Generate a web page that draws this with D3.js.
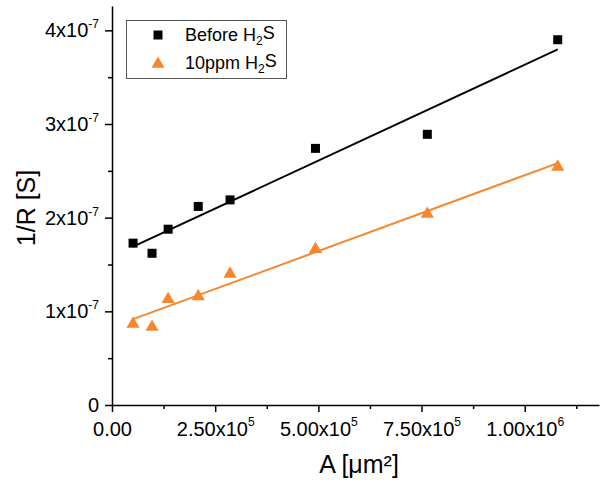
<!DOCTYPE html>
<html>
<head>
<meta charset="utf-8">
<script src="https://cdn.jsdelivr.net/npm/d3@7"></script>
<style>
  body { margin: 0; background: #fff; }
  svg { font-family: "Liberation Sans", Arial, sans-serif; }
</style>
</head>
<body>
<svg id="chart" width="600" height="485"></svg>
<script>
// ---- Data ----
const areaValues = [5.1e4, 9.7e4, 1.36e5, 2.09e5, 2.86e5, 4.93e5, 7.64e5, 1.08e6];
const beforeH2S  = [1.728e-7, 1.62e-7, 1.877e-7, 2.12e-7, 2.19e-7, 2.74e-7, 2.89e-7, 3.90e-7];
const ppm10H2S   = [0.877e-7, 0.843e-7, 1.14e-7, 1.17e-7, 1.41e-7, 1.675e-7, 2.05e-7, 2.553e-7];
const seriesNames = ["Before H", "10ppm H"];
const xTickValues = [0, 2.5e5, 5e5, 7.5e5, 1e6];
const xTickMantissa = ["0.00", "2.50x10", "5.00x10", "7.50x10", "1.00x10"];
const xTickExp = ["", "5", "5", "5", "6"];
const xMinorTicks = [1.25e5, 3.75e5, 6.25e5, 8.75e5, 1.125e6];
const yTickValues = [0, 1e-7, 2e-7, 3e-7, 4e-7];
const yTickMantissa = ["0", "1x10", "2x10", "3x10", "4x10"];
const yTickExp = ["", "-7", "-7", "-7", "-7"];
const yMinorTicks = [0.5e-7, 1.5e-7, 2.5e-7, 3.5e-7];
const xTitle = "A [μm²]";
const yTitle = "1/R [S]";

const colors = ["#000000", "#f7862f"];

const svg = d3.select("#chart");
const x = d3.scaleLinear().domain([0, 1.18e6]).range([112, 599]);
const y = d3.scaleLinear().domain([0, 4.26e-7]).range([405, 6]);

// axes
const xAxis = svg.append("g").attr("transform", "translate(0,405)")
  .call(d3.axisBottom(x).tickValues(xTickValues).tickSize(7).tickSizeOuter(0).tickPadding(5));
const xMinor = svg.append("g").attr("transform", "translate(0,405)")
  .call(d3.axisBottom(x).tickValues(xMinorTicks).tickSize(4).tickSizeOuter(0).tickFormat(""));
xMinor.select(".domain").remove();
const yAxis = svg.append("g").attr("transform", "translate(112,0)")
  .call(d3.axisLeft(y).tickValues(yTickValues).tickSize(7).tickSizeOuter(0).tickPadding(6));
const yMinor = svg.append("g").attr("transform", "translate(112,0)")
  .call(d3.axisLeft(y).tickValues(yMinorTicks).tickSize(4).tickSizeOuter(0).tickFormat(""));
yMinor.select(".domain").remove();

svg.selectAll(".domain, .tick line").attr("stroke", "#000").attr("stroke-width", 1.5);

xAxis.selectAll(".tick text").each(function(d, i) {
  const t = d3.select(this);
  t.text(null).attr("font-size", 20).attr("fill", "#000").attr("dy", "0.95em");
  t.append("tspan").text(xTickMantissa[i]);
  if (xTickExp[i]) t.append("tspan").attr("font-size", 12).attr("dy", "-0.8em").text(xTickExp[i]);
});
yAxis.selectAll(".tick text").each(function(d, i) {
  const t = d3.select(this);
  t.text(null).attr("font-size", 20).attr("fill", "#000");
  t.append("tspan").text(yTickMantissa[i]);
  if (yTickExp[i]) t.append("tspan").attr("font-size", 12).attr("dy", "-0.75em").text(yTickExp[i]);
});
svg.selectAll(".tick text").attr("font-family", null);
xAxis.attr("font-family", null); yAxis.attr("font-family", null);

// titles
svg.append("text").attr("x", 359).attr("y", 473).attr("text-anchor", "middle")
  .attr("font-size", 25).text(xTitle);
svg.append("text").attr("transform", "translate(35,208) rotate(-90)").attr("text-anchor", "middle")
  .attr("font-size", 25).text(yTitle);

// regression
function fit(xs, ys) {
  const n = xs.length, mx = d3.mean(xs), my = d3.mean(ys);
  let sxy = 0, sxx = 0;
  for (let i = 0; i < n; i++) { sxy += (xs[i]-mx)*(ys[i]-my); sxx += (xs[i]-mx)**2; }
  const b = sxy / sxx; return { b, a: my - b*mx };
}
const series = [beforeH2S, ppm10H2S];
series.forEach((ys, si) => {
  const f = fit(areaValues, ys);
  const x0 = d3.min(areaValues), x1 = d3.max(areaValues);
  svg.append("line")
    .attr("x1", x(x0)).attr("y1", y(f.a + f.b*x0))
    .attr("x2", x(x1)).attr("y2", y(f.a + f.b*x1))
    .attr("stroke", colors[si]).attr("stroke-width", 2);
});

const sq = d3.symbol().type(d3.symbolSquare).size(81);
const tri = d3.symbol().type(d3.symbolTriangle).size(75);
svg.append("g").selectAll("path").data(areaValues).join("path")
  .attr("d", sq).attr("fill", colors[0])
  .attr("transform", (d, i) => `translate(${x(d)},${y(beforeH2S[i])})`);
svg.append("g").selectAll("path").data(areaValues).join("path")
  .attr("d", tri).attr("fill", colors[1])
  .attr("transform", (d, i) => `translate(${x(d)},${y(ppm10H2S[i]) + 1})`);

// legend
const lg = svg.append("g");
lg.append("rect").attr("x", 126.5).attr("y", 20.5).attr("width", 160).attr("height", 58)
  .attr("fill", "#fff").attr("stroke", "#555").attr("stroke-width", 1);
const shapes = [sq, tri];
seriesNames.forEach((name, i) => {
  const cy = 35 + i * 28;
  lg.append("path").attr("d", shapes[i]).attr("fill", colors[i])
    .attr("transform", `translate(158,${cy + (i ? 1 : 0)})`);
  const t = lg.append("text").attr("x", 185).attr("y", cy + 6).attr("font-size", 18);
  t.append("tspan").text(name);
  t.append("tspan").attr("font-size", 12).attr("dy", "0.35em").text("2");
  t.append("tspan").attr("dy", "-0.35em").attr("font-size", 18).text("S");
});
</script>
</body>
</html>
